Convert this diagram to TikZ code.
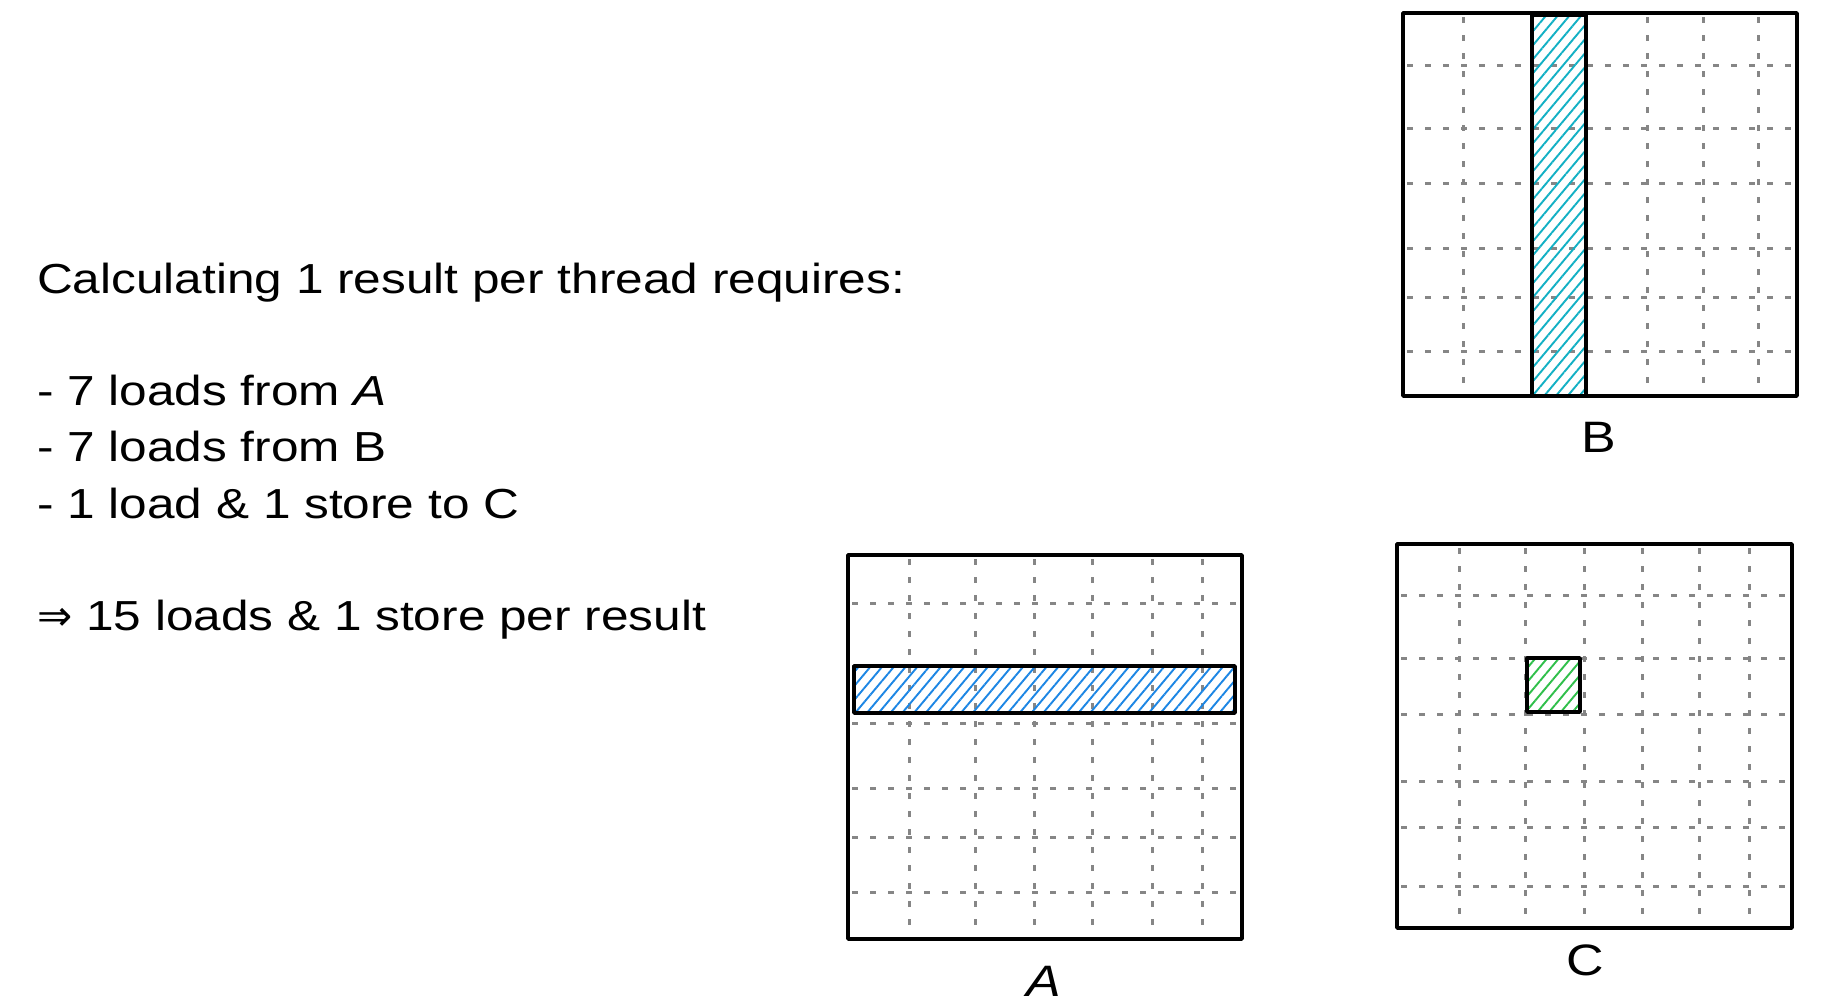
\documentclass[tikz,border=0pt]{standalone}
\usepackage{fontspec}
\setmainfont[FakeStretch=1.18]{Liberation Sans}
\newfontfamily\arrowfont{DejaVu Sans}
\usetikzlibrary{patterns.meta}
\definecolor{gridgray}{HTML}{868686}
\definecolor{hatchblue}{HTML}{1C86E4}
\definecolor{hatchcyan}{HTML}{12B0C4}
\definecolor{hatchgreen}{HTML}{2FBF4A}
\begin{document}
\begin{tikzpicture}[x=1pt,y=-1pt,
  frame/.style={draw=black,line width=3.6pt,line join=round},
  gridline/.style={draw=gridgray,line width=3pt,dash pattern=on 6pt off 12pt},
  hatch/.style={pattern={Lines[angle=50,distance=9pt,line width=1.9pt]},pattern color=#1},
  txt/.style={anchor=base west,inner sep=0pt,font=\fontsize{42}{50}\selectfont},
  lbl/.style={inner sep=0pt,font=\fontsize{44}{50}\selectfont}]
\useasboundingbox (0,0) rectangle (1838,1004);

% ---- matrix B ----
\foreach \x in {1463,1532,1586,1647,1703,1758} \draw[gridline] (\x,17) -- (\x,392);
\foreach \y in {65,128,183,248,297,351} \draw[gridline] (1407,\y) -- (1793,\y);
\fill[hatch=hatchcyan] (1532,15) rectangle (1586,396);
\draw[frame] (1532,15) rectangle (1586,396);
\draw[frame] (1403,13) rectangle (1797,396);
\node[lbl] (lb) at (1599,437) {B};

% ---- matrix A ----
\foreach \x in {909,975,1034,1092,1152,1202} \draw[gridline] (\x,559) -- (\x,935);
\foreach \y in {603,666,723,788,837,892} \draw[gridline] (852,\y) -- (1238,\y);
\fill[hatch=hatchblue] (854,666) rectangle (1235,713);
\draw[frame] (854,666) rectangle (1235,713);
\draw[frame] (848,555) rectangle (1242,939);
\node[lbl] (la) at (1044,981) {\textit{A}};

% ---- matrix C ----
\foreach \x in {1459,1525,1584,1642,1699,1749} \draw[gridline] (\x,548) -- (\x,924);
\foreach \y in {595,658,714,781,827,886} \draw[gridline] (1401,\y) -- (1788,\y);
\fill[hatch=hatchgreen] (1527,658) rectangle (1580,712);
\draw[frame] (1527,658) rectangle (1580,712);
\draw[frame] (1397,544) rectangle (1792,928);
\node[lbl] (lc) at (1585,960) {C};

% ---- text ----
\node[txt] (t1) at (37,293) {Calculating 1 result per thread requires:};
\node[txt] (t2) at (37,405) {- 7 loads from \textit{A}};
\node[txt] (t3) at (37,461) {- 7 loads from B};
\node[txt] (t4) at (37,518) {- 1 load \& 1 store to C};
\node[txt] (t5) at (37,630) {{\arrowfont ⇒} 15 loads \& 1 store per result};
\end{tikzpicture}
\end{document}
